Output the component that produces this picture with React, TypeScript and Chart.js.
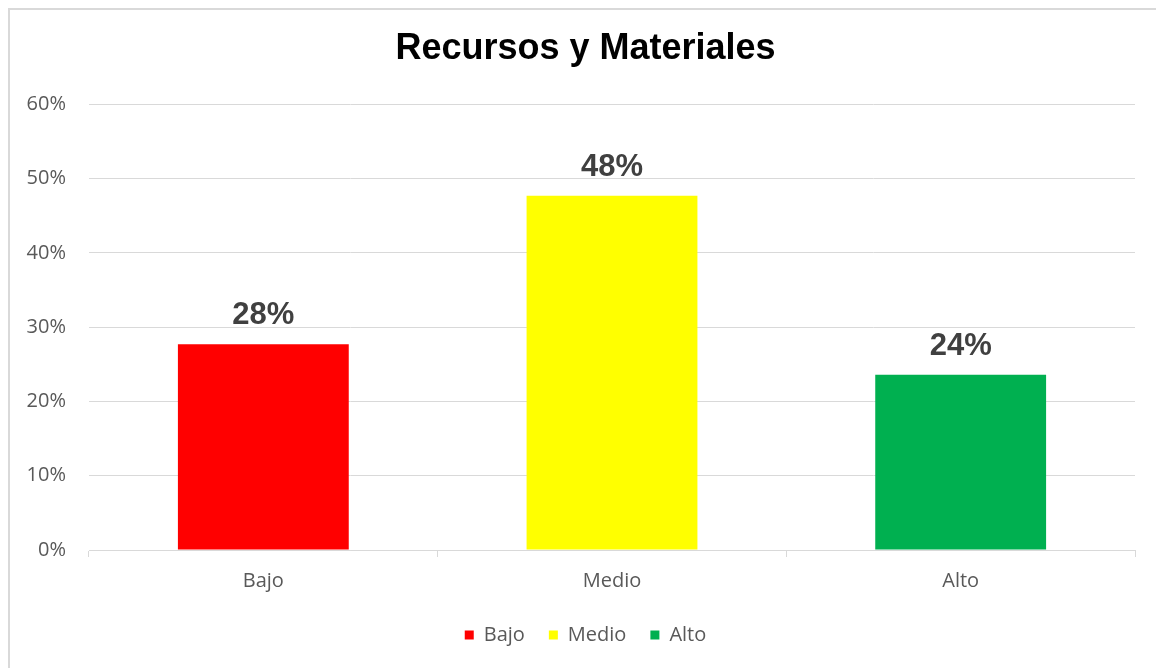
import React, { useEffect, useRef } from "react";
import { Chart, registerables } from "chart.js";

Chart.register(...registerables);

const categories = ["Bajo", "Medio", "Alto"];
const values = [27.7, 47.7, 23.6];
const barColors = ["#FF0000", "#FFFF00", "#00B050"];
const yTicks = [0, 10, 20, 30, 40, 50, 60];
const chartTitle = "Recursos y Materiales";

const dataLabelPlugin = {
  id: "dataLabels",
  afterDatasetsDraw(chart: any) {
    const ctx = chart.ctx;
    const meta = chart.getDatasetMeta(0);
    ctx.save();
    ctx.font = "bold 31px 'Liberation Sans', Arial, sans-serif";
    ctx.fillStyle = "#404040";
    ctx.textAlign = "center";
    ctx.textBaseline = "alphabetic";
    meta.data.forEach((bar: any, i: number) => {
      const v = chart.data.datasets[0].data[i];
      ctx.fillText(Math.round(v) + "%", bar.x, bar.y - 20);
    });
    ctx.restore();
  },
};

export default function App() {
  const canvasRef = useRef<HTMLCanvasElement>(null);

  useEffect(() => {
    if (!canvasRef.current) return;
    const chart = new Chart(canvasRef.current, {
      type: "bar",
      data: {
        labels: categories,
        datasets: [
          {
            label: chartTitle,
            data: values,
            backgroundColor: barColors,
            borderWidth: 0,
            categoryPercentage: 1,
            barPercentage: 0.49,
            yAxisID: "y",
          },
        ],
      },
      options: {
        animation: false,
        responsive: false,
        maintainAspectRatio: false,
        layout: { padding: { left: 0, right: 0, top: 0, bottom: 13 } },
        plugins: {
          title: {
            display: true,
            text: chartTitle,
            color: "#000000",
            font: { family: "'Liberation Sans', Arial, sans-serif", size: 36, weight: "bold" },
            padding: { top: 17.4, bottom: 33.7 },
          },
          legend: {
            display: true,
            position: "bottom",
            labels: {
              boxWidth: 9,
              boxHeight: 9,
              padding: 24,
              color: "#595959",
              font: { family: "'Open Sans', sans-serif", size: 20 },
              generateLabels: () =>
                categories.map((c, i) => ({
                  text: c,
                  fillStyle: barColors[i],
                  strokeStyle: barColors[i],
                  lineWidth: 0,
                  fontColor: "#595959",
                  hidden: false,
                  index: i,
                  datasetIndex: 0,
                })),
            },
          },
          tooltip: { enabled: false },
        },
        scales: {
          x: {
            grid: {
              display: true,
              drawOnChartArea: false,
              drawTicks: true,
              tickLength: 7,
              color: "#d9d9d9",
              offset: true,
            },
            border: { display: true, color: "#d9d9d9", width: 1 },
            ticks: {
              color: "#595959",
              font: { family: "'Open Sans', sans-serif", size: 20 },
              padding: 12,
            },
            afterFit: (scale: any) => {
              scale.height = 51;
            },
          },
          y: {
            min: 0,
            max: 60,
            afterBuildTicks: (scale: any) => {
              scale.ticks = yTicks.map((v) => ({ value: v }));
            },
            grid: { color: "#d9d9d9", drawTicks: false, lineWidth: 1 },
            border: { display: false },
            ticks: {
              color: "#595959",
              font: { family: "'Open Sans', sans-serif", size: 20 },
              padding: 23,
              callback: (v: any) => v + "%",
            },
            afterFit: (scale: any) => {
              scale.width = 79;
            },
          },
          yRightSpace: {
            type: "linear",
            position: "right",
            display: true,
            grid: { display: false, drawTicks: false },
            border: { display: false },
            ticks: { display: false },
            afterFit: (scale: any) => {
              scale.width = 26;
            },
          },
        },
      },
      plugins: [dataLabelPlugin],
    });
    return () => chart.destroy();
  }, []);

  return (
    <div
      style={{
        width: 1155,
        height: 660,
        boxSizing: "border-box",
        borderTop: "2px solid #d9d9d9",
        borderLeft: "2px solid #d9d9d9",
        borderRight: "2px solid #d9d9d9",
        background: "#ffffff",
      }}
    >
      <canvas ref={canvasRef} width={1151} height={658} style={{ display: "block" }} />
    </div>
  );
}
